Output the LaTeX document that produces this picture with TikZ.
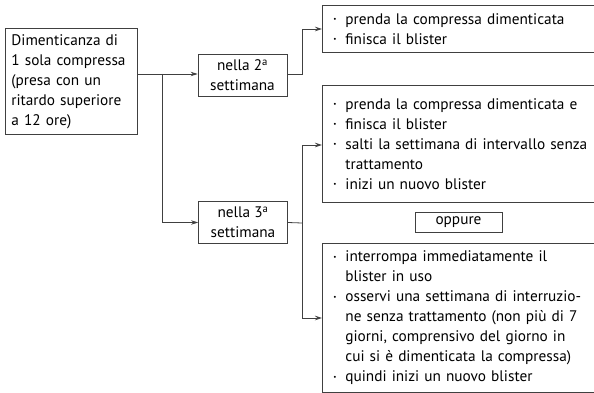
\documentclass[tikz,border=0pt]{standalone}
\usepackage{fontspec}
\setmainfont{PT Sans}
\usetikzlibrary{arrows.meta}
\tikzset{
	box/.style={draw=black!75, line width=0.8pt, inner sep=0pt, font=\fontsize{15.3}{20}\selectfont},
	actbox/.style={box, anchor=north west, minimum width=290, text width=268, inner xsep=11, align=left},
	link/.style={draw=black!75, line width=0.8pt},
	tip/.style={link, -{Stealth[length=7pt,width=4.5pt]}},
}
\newcommand{\bul}{\makebox[12pt][l]{\raisebox{2.5pt}{\scriptsize\textbullet}}}
\newcommand{\ind}{\hspace*{12pt}}

\begin{document}
\begin{tikzpicture}[x=1pt,y=-1pt]
		\clip (0,0) rectangle (594,393);
		% starting case
		\node[box, anchor=north west, minimum width=132, minimum height=106, text width=120, inner xsep=6, align=left] (main) at (5,28)
			{Dimenticanza di\\1 sola compressa\\(presa con un\\ritardo superiore\\a 12 ore)};
		% weeks
		\node[box, minimum width=89, minimum height=42, align=center] (week2) at (242.5,75) {nella 2\textsuperscript{a}\\settimana};
		\node[box, minimum width=89, minimum height=42, align=center] (week3) at (243,222.5) {nella 3\textsuperscript{a}\\settimana};
		% what to do
		\node[actbox, minimum height=47] (act2) at (322,5)
			{\bul prenda la compressa dimenticata\\\bul finisca il blister};
		\node[actbox, minimum height=117] (act3a) at (322,85)
			{\bul prenda la compressa dimenticata e\\\bul finisca il blister\\\bul salti la settimana di intervallo senza\\\ind trattamento\\\bul inizi un nuovo blister};
		\node[box, minimum width=87, minimum height=20] (oppure) at (458.5,222) {oppure};
		\node[actbox, minimum height=149] (act3b) at (322,243)
			{\bul interrompa immediatamente il\\\ind blister in uso\\\bul osservi una settimana di interruzio-\\\ind ne senza trattamento (non più di 7\\\ind giorni, comprensivo del giorno in\\\ind cui si è dimenticata la compressa)\\\bul quindi inizi un nuovo blister};
		% connectors
		\coordinate (split) at (162,74);
		\coordinate (fork) at (302,223);
		\draw[tip] (main.east |- split) -- (week2.west |- split);
		\draw[link] (split) -- (162,222.5);
		\draw[tip] (162,222.5) -- (week3.west);
		\draw[tip] (week2.east |- split) -| (302,29) -- (act2.west |- 0,29);
		\draw[link] (week3.east) -- (fork);
		\draw[link] (302,145) -- (302,318);
		\draw[tip] (302,145) -- (act3a.west |- 0,145);
		\draw[tip] (302,318) -- (act3b.west |- 0,318);
\end{tikzpicture}
\end{document}
